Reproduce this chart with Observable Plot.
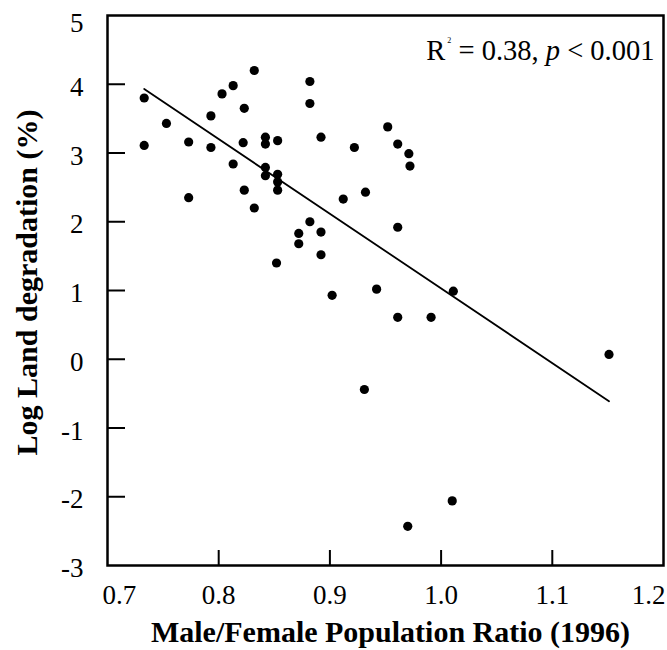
<!DOCTYPE html>
<html>
<head>
<meta charset="utf-8">
<script src="https://cdn.jsdelivr.net/npm/d3@7"></script>
<script src="https://cdn.jsdelivr.net/npm/@observablehq/plot@0.6"></script>
<style>
  html, body { margin: 0; padding: 0; background: #fff; }
  #chart svg { display: block; }
</style>
</head>
<body>
<div id="chart"></div>
<script>
// Male/Female population ratio (1996)
const ratio = [0.733, 0.733, 0.753, 0.773, 0.773, 0.793, 0.793, 0.803, 0.813, 0.813,
  0.823, 0.822, 0.823, 0.832, 0.832, 0.842, 0.842, 0.842, 0.842, 0.853,
  0.853, 0.853, 0.853, 0.852, 0.872, 0.872, 0.882, 0.882, 0.882, 0.892,
  0.892, 0.892, 0.902, 0.912, 0.922, 0.932, 0.942, 0.952, 0.961, 0.961,
  0.971, 0.972, 1.011, 0.961, 0.931, 0.991, 1.151, 1.010, 0.970];
// Log land degradation (%)
const logDegradation = [3.80, 3.11, 3.43, 3.16, 2.35, 3.54, 3.08, 3.86, 3.98, 2.84,
  3.65, 3.15, 2.46, 4.20, 2.20, 3.23, 3.13, 2.79, 2.67, 3.18,
  2.69, 2.58, 2.46, 1.40, 1.83, 1.68, 4.04, 3.72, 2.00, 3.23,
  1.85, 1.52, 0.93, 2.33, 3.08, 2.43, 1.02, 3.38, 3.13, 1.92,
  2.99, 2.81, 0.99, 0.61, -0.44, 0.61, 0.07, -2.06, -2.43];
// fitted regression line endpoints
const fitX = [0.733, 1.151];
const fitY = [3.93, -0.61];
// axes
const xTicks = [0.7, 0.8, 0.9, 1.0, 1.1, 1.2];
const yTicks = [-3, -2, -1, 0, 1, 2, 3, 4, 5];
const xDomain = [0.7, 1.2];
const yDomain = [-3, 5];
const xLabel = "Male/Female Population Ratio (1996)";
const yLabel = "Log Land degradation (%)";
const annotation = "R2 = 0.38, p < 0.001";

const points = ratio.map((x, i) => ({x, y: logDegradation[i]}));
const fit = fitX.map((x, i) => ({x, y: fitY[i]}));

const W = 667, H = 650;
const mL = 107, mR = 4, mT = 15, mB = 85;
const plotW = W - mL - mR, plotH = H - mT - mB;
const fmtX = d3.format(".1f");
const fmtY = d => String(d);
const innerX = xTicks.slice(1, -1);
const innerY = yTicks.slice(1, -1);
const tickFont = 27;

const chart = Plot.plot({
  width: W,
  height: H,
  marginLeft: mL,
  marginRight: mR,
  marginTop: mT,
  marginBottom: mB,
  style: {fontFamily: "'Liberation Serif', 'Times New Roman', serif", fontSize: "27px", color: "#000", background: "#fff"},
  x: {domain: xDomain, axis: null},
  y: {domain: yDomain, axis: null},
  marks: [
    // inward ticks
    Plot.ruleX(innerX, {x: d => d, insetTop: plotH - 15, stroke: "#000", strokeWidth: 2}),
    Plot.ruleY(innerY, {y: d => d, insetRight: plotW - 18, stroke: "#000", strokeWidth: 2}),
    // tick labels
    Plot.axisX(innerX, {label: null, tickSize: 0, tickPadding: 19, tickFormat: fmtX, fontSize: tickFont, fill: "#000"}),
    Plot.axisX([xTicks[0]], {label: null, tickSize: 0, tickPadding: 19, tickFormat: fmtX, fontSize: tickFont, textAnchor: "start", dx: -5, fill: "#000"}),
    Plot.axisX([xTicks[xTicks.length - 1]], {label: null, tickSize: 0, tickPadding: 19, tickFormat: fmtX, fontSize: tickFont, textAnchor: "end", dx: 2, fill: "#000"}),
    Plot.axisY(yTicks.slice(0, -1), {label: null, tickSize: 0, tickPadding: 24, tickFormat: fmtY, fontSize: tickFont, dy: 3, fill: "#000"}),
    Plot.axisY([yTicks[yTicks.length - 1]], {label: null, tickSize: 0, tickPadding: 24, tickFormat: fmtY, fontSize: tickFont, dy: 8, fill: "#000"}),
    // axis titles
    Plot.text([xLabel], {frameAnchor: "bottom", text: d => d, textAnchor: "middle", lineAnchor: "middle", dy: 67, dx: 5, fontSize: 30, fontWeight: "bold", fill: "#000"}),
    Plot.text([yLabel], {frameAnchor: "left", text: d => d, textAnchor: "middle", lineAnchor: "middle", rotate: -90, dx: -80, dy: -8, fontSize: 30, fontWeight: "bold", fill: "#000"}),
    // data
    Plot.line(fit, {x: "x", y: "y", stroke: "#000", strokeWidth: 1.8}),
    Plot.dot(points, {x: "x", y: "y", r: 4.6, fill: "#000", stroke: "none"}),
    // annotation
    Plot.text([annotation], {frameAnchor: "top-right", text: d => d, textAnchor: "end", lineAnchor: "middle", dx: -9, dy: 35, fontSize: 28.5, fill: "#000"}),
    Plot.frame({stroke: "#000", strokeWidth: 2.5})
  ]
});

// rich formatting of the annotation (superscript 2, italic p)
d3.select(chart).selectAll("text").each(function() {
  if (this.textContent === annotation) {
    const t = d3.select(this);
    t.text(null);
    t.append("tspan").text("R");
    t.append("tspan").attr("font-size", 8).attr("dy", -17).attr("dx", 2).text("2");
    t.append("tspan").attr("dy", 17).text(" = 0.38, ");
    t.append("tspan").attr("font-style", "italic").text("p");
    t.append("tspan").text(" < 0.001");
  }
});

document.getElementById("chart").appendChild(chart);
</script>
</body>
</html>
